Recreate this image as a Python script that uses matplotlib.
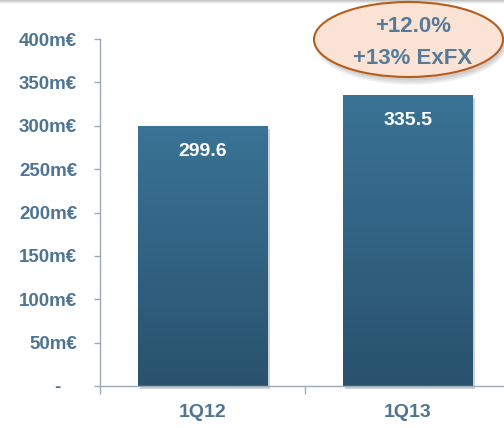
import numpy as np
import matplotlib
matplotlib.use("Agg")
import matplotlib.pyplot as plt
from matplotlib.patches import Ellipse, Rectangle
from matplotlib.colors import LinearSegmentedColormap

categories = ["1Q12", "1Q13"]
values = [299.6, 335.5]
yticks = [0, 50, 100, 150, 200, 250, 300, 350, 400]
ytick_labels = ["-   ", "50m€", "100m€", "150m€", "200m€", "250m€", "300m€", "350m€", "400m€"]
bubble_lines = ["+12.0%", "+13% ExFX"]

FONT = ["Liberation Sans", "DejaVu Sans"]
plt.rcParams["font.family"] = FONT
label_color = "#4f7593"
axis_color = "#9aaab8"

fig = plt.figure(figsize=(5.04, 4.28), dpi=100)
fig.patch.set_facecolor("white")

# top grey strip
strip = fig.add_axes([0, 1 - 4 / 428, 1, 4 / 428])
strip.imshow(np.linspace(0.75, 1.0, 20).reshape(-1, 1), cmap="gray", vmin=0, vmax=1,
             aspect="auto", extent=[0, 1, 0, 1])
strip.axis("off")

ax = fig.add_axes([100 / 504, 42 / 428, 404 / 504, 347 / 428])
ax.patch.set_alpha(0)

cmap = LinearSegmentedColormap.from_list("bar", ["#29526d", "#3a7396"])
width = 0.63
for i, v in enumerate(values):
    x0 = i - width / 2
    sh = Rectangle((x0 + 0.012, -3), width, v, facecolor="#000000", alpha=0.18,
                   edgecolor="none", zorder=1, clip_on=False)
    ax.add_patch(sh)
    rect = Rectangle((x0, 0), width, v, facecolor="none", edgecolor="none", zorder=2)
    ax.add_patch(rect)
    grad = np.linspace(0, 1, 256).reshape(-1, 1)
    im = ax.imshow(grad, cmap=cmap, origin="lower", aspect="auto",
                   extent=[x0, x0 + width, 0, v], zorder=2)
    im.set_clip_path(rect)
    ax.text(i, v - 29, f"{v:.1f}", ha="center", va="center", color="white",
            fontsize=14, fontweight="bold", zorder=3)

ax.set_xlim(-0.5, 1.47)
ax.set_ylim(0, 400)

for s in ["top", "right"]:
    ax.spines[s].set_visible(False)
for s in ["left", "bottom"]:
    ax.spines[s].set_color(axis_color)
    ax.spines[s].set_linewidth(1.0)

ax.set_yticks(yticks)
ax.set_yticklabels(ytick_labels)
ax.tick_params(axis="y", length=4.5, width=1, color=axis_color, pad=12,
               labelsize=13.5, labelcolor=label_color)
for t in ax.get_yticklabels():
    t.set_fontweight("bold")

ax.set_xticks([-0.5, 0.5], minor=False)
ax.set_xticklabels(["", ""])
ax.tick_params(axis="x", which="major", length=5.5, width=1, color=axis_color)
ax.set_xticks([0, 1], minor=True)
ax.set_xticklabels(categories, minor=True)
ax.tick_params(axis="x", which="minor", length=0, pad=13, labelsize=14,
               labelcolor=label_color)
for t in ax.get_xticklabels(minor=True):
    t.set_fontweight("bold")

# bubble
for k, a in enumerate([0.10, 0.10, 0.10]):
    shd = Ellipse((411 / 504, 1 - 43 / 428), (186 + 4 * k) / 504, (75 + 4 * k) / 428,
                  transform=fig.transFigure, facecolor="#555555", alpha=a,
                  edgecolor="none", zorder=5)
    fig.patches.append(shd)
ell = Ellipse((408.5 / 504, 1 - 39.5 / 428), 189 / 504, 75 / 428, transform=fig.transFigure,
              facecolor="#fae3d4", edgecolor="#b95d1c", linewidth=1.5, zorder=6)
fig.patches.append(ell)
fig.text(413 / 504, 1 - 26 / 428, bubble_lines[0], ha="center", va="center",
         fontsize=16, fontweight="bold", color="#557b98", zorder=7)
fig.text(413 / 504, 1 - 58 / 428, bubble_lines[1], ha="center", va="center",
         fontsize=16, fontweight="bold", color="#557b98", zorder=7)

fig.savefig("out.png", dpi=100)
